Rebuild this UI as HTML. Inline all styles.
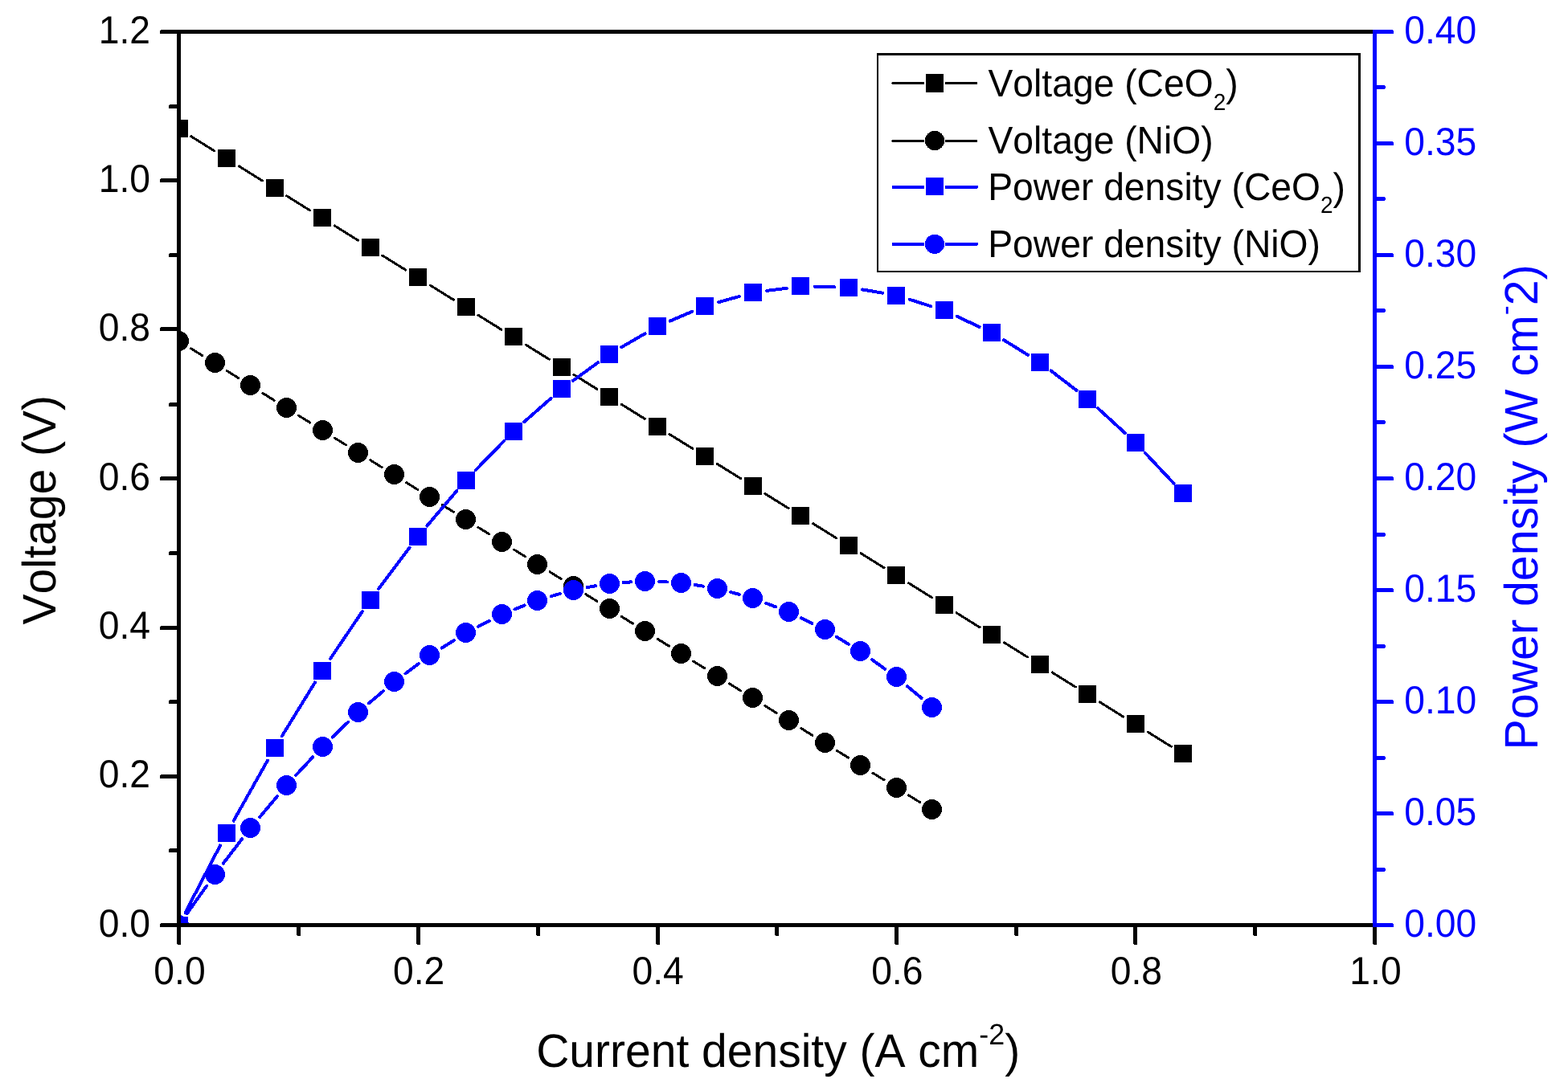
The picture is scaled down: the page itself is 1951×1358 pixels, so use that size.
<!DOCTYPE html>
<html lang="en"><head><meta charset="utf-8">
<title>Voltage and power density vs current density</title>
<style>
html,body{margin:0;padding:0;background:#fff;}
body{width:1951px;height:1358px;overflow:hidden;}
svg{display:block;}
text{font-family:"Liberation Sans", sans-serif;white-space:pre;font-kerning:none;font-variant-ligatures:none;text-rendering:geometricPrecision;}
.tk{font-size:47px;}
.ttl{font-size:57.3px;}
.lg{font-size:47px;}
.sup{font-size:36px;}
.sub{font-size:28.5px;}
.crisp{shape-rendering:crispEdges;}
</style></head><body>
<svg role="img" aria-label="Voltage and power density versus current density for CeO2 and NiO" width="1951" height="1358" viewBox="0 0 1951 1358">
<rect x="0" y="0" width="1951" height="1358" fill="#ffffff"/>
<defs><clipPath id="plot"><rect x="222.5" y="19.5" width="1508" height="1132"/></clipPath></defs>
<g clip-path="url(#plot)">
<g id="voltage-ceo2">
<path class="crisp" d="M237.78 169.78L266.74 187.82M297.3 206.85L326.26 224.88M356.82 243.92L385.78 261.95M416.34 280.98L445.3 299.02M475.86 318.05L504.82 336.08M535.38 355.12L564.34 373.15M594.9 392.18L623.86 410.22M654.42 429.25L683.38 447.28M713.94 466.32L742.9 484.35M773.46 503.38L802.42 521.42M832.98 540.45L861.94 558.48M892.5 577.52L921.46 595.55M952.02 614.58L980.98 632.62M1011.54 651.65L1040.5 669.68M1071.06 688.72L1100.02 706.75M1130.58 725.78L1159.54 743.82M1190.1 762.85L1219.06 780.88M1249.62 799.92L1278.58 817.95M1309.14 836.98L1338.1 855.02M1368.66 874.05L1397.62 892.08M1428.18 911.12L1457.14 929.15" fill="none" stroke="#000" stroke-width="3" stroke-linecap="round"/>
<path class="crisp" d="M212 149h22v22h-22zM271 186h22v22h-22zM331 223h22v22h-22zM390 260h22v22h-22zM450 297h22v22h-22zM509 334h22v22h-22zM569 371h22v22h-22zM628 408h22v22h-22zM688 446h22v22h-22zM747 483h22v22h-22zM807 520h22v22h-22zM866 557h22v22h-22zM926 594h22v22h-22zM985 631h22v22h-22zM1045 668h22v22h-22zM1104 705h22v22h-22zM1164 742h22v22h-22zM1223 779h22v22h-22zM1283 816h22v22h-22zM1342 853h22v22h-22zM1402 890h22v22h-22zM1461 927h22v22h-22z" fill="#000"/>
</g>
<g id="voltage-nio">
<path class="crisp" d="M237.78 433.88L251.86 442.65M282.42 461.68L296.5 470.45M327.06 489.48L341.14 498.25M371.7 517.28L385.78 526.05M416.34 545.08L430.42 553.85M460.98 572.88L475.06 581.65M505.62 600.68L519.7 609.45M550.26 628.48L564.34 637.25M594.9 656.28L608.98 665.05M639.54 684.08L653.62 692.85M684.18 711.88L698.26 720.65M728.82 739.68L742.9 748.45M773.46 767.48L787.54 776.25M818.1 795.28L832.18 804.05M862.74 823.08L876.82 831.85M907.38 850.88L921.46 859.65M952.02 878.68L966.1 887.45M996.66 906.48L1010.74 915.25M1041.3 934.28L1055.38 943.05M1085.94 962.08L1100.02 970.85M1130.58 989.88L1144.66 998.65" fill="none" stroke="#000" stroke-width="3" stroke-linecap="round"/>
<g class="crisp" fill="#000">
<circle cx="222.5" cy="424.5" r="12.5"/>
<circle cx="267.5" cy="451.5" r="12.5"/>
<circle cx="311.5" cy="479.5" r="12.5"/>
<circle cx="356.5" cy="507.5" r="12.5"/>
<circle cx="401.5" cy="535.5" r="12.5"/>
<circle cx="445.5" cy="563.5" r="12.5"/>
<circle cx="490.5" cy="590.5" r="12.5"/>
<circle cx="534.5" cy="618.5" r="12.5"/>
<circle cx="579.5" cy="646.5" r="12.5"/>
<circle cx="624.5" cy="674.5" r="12.5"/>
<circle cx="668.5" cy="702.5" r="12.5"/>
<circle cx="713.5" cy="729.5" r="12.5"/>
<circle cx="758.5" cy="757.5" r="12.5"/>
<circle cx="802.5" cy="785.5" r="12.5"/>
<circle cx="847.5" cy="813.5" r="12.5"/>
<circle cx="892.5" cy="841.5" r="12.5"/>
<circle cx="936.5" cy="868.5" r="12.5"/>
<circle cx="981.5" cy="896.5" r="12.5"/>
<circle cx="1026.5" cy="924.5" r="12.5"/>
<circle cx="1070.5" cy="952.5" r="12.5"/>
<circle cx="1115.5" cy="980.5" r="12.5"/>
<circle cx="1159.5" cy="1007.5" r="12.5"/>
</g>
</g>
<g id="power-ceo2">
<path class="crisp" d="M230.57 1135.97L273.95 1052.49M290.61 1021.72L332.95 946.57M350.71 916.42L391.89 849.49M410.88 820.09L450.76 761.22M471.11 732.76L509.57 681.75M531.43 654.44L568.29 611.06M591.83 585.18L626.93 549.11M652.29 525.02L685.51 495.85M712.8 473.99L744.04 451.24M773.32 432.16L802.56 415.23M833.78 399.55L861.14 387.79M894.07 376.16L919.89 368.93M954.09 361.93L978.91 358.69M1013.76 356.75L1038.28 357.21M1073.04 360.43L1098.04 364.64M1131.98 372.84L1158.14 381.15M1190.68 393.85L1218.48 406.84M1249.24 423.43L1278.96 441.76M1307.75 461.58L1339.49 485.89M1366.29 508.35L1399.99 539.2M1424.88 563.78L1460.44 601.65" fill="none" stroke="#0000ff" stroke-width="4" stroke-linecap="round"/>
<path class="crisp" d="M212 1141h22v22h-22zM271 1026h22v22h-22zM331 920h22v22h-22zM390 824h22v22h-22zM450 736h22v22h-22zM509 657h22v22h-22zM569 587h22v22h-22zM628 526h22v22h-22zM688 473h22v22h-22zM747 430h22v22h-22zM807 395h22v22h-22zM866 370h22v22h-22zM926 353h22v22h-22zM985 345h22v22h-22zM1045 347h22v22h-22zM1104 357h22v22h-22zM1164 375h22v22h-22zM1223 403h22v22h-22zM1283 440h22v22h-22zM1342 486h22v22h-22zM1402 540h22v22h-22zM1461 603h22v22h-22z" fill="#0000ff"/>
</g>
<g id="power-nio">
<path class="crisp" d="M232.62 1137.22L257.02 1102.81M277.82 1074.67L301.1 1044.43M323.06 1017.19L345.14 990.99M368.34 964.8L389.14 942.47M413.67 917.52L433.09 898.84M459.03 875.37L477.01 860.09M504.42 838.37L520.9 826.21M549.81 806.53L564.79 797.16M595.19 779.88L608.69 772.94M640.5 758.42L652.66 753.53M685.71 742.14L696.73 738.95M730.77 731.02L740.95 729.22M775.64 725.02L785.36 724.38M820.3 724.06L829.98 724.51M864.74 728.07L874.82 729.67M908.99 736.99L919.85 739.93M953.08 750.77L965.04 755.35M997.06 769.37L1010.34 775.94M1040.98 792.79L1055.7 801.73M1084.87 821.03L1101.09 832.7M1128.76 854.11L1146.48 868.85" fill="none" stroke="#0000ff" stroke-width="4" stroke-linecap="round"/>
<g class="crisp" fill="#0000ff">
<circle cx="222.5" cy="1151.5" r="12.5"/>
<circle cx="267.5" cy="1088.5" r="12.5"/>
<circle cx="311.5" cy="1030.5" r="12.5"/>
<circle cx="356.5" cy="977.5" r="12.5"/>
<circle cx="401.5" cy="929.5" r="12.5"/>
<circle cx="445.5" cy="886.5" r="12.5"/>
<circle cx="490.5" cy="848.5" r="12.5"/>
<circle cx="534.5" cy="815.5" r="12.5"/>
<circle cx="579.5" cy="787.5" r="12.5"/>
<circle cx="624.5" cy="764.5" r="12.5"/>
<circle cx="668.5" cy="747.5" r="12.5"/>
<circle cx="713.5" cy="734.5" r="12.5"/>
<circle cx="758.5" cy="726.5" r="12.5"/>
<circle cx="802.5" cy="723.5" r="12.5"/>
<circle cx="847.5" cy="725.5" r="12.5"/>
<circle cx="892.5" cy="732.5" r="12.5"/>
<circle cx="936.5" cy="744.5" r="12.5"/>
<circle cx="981.5" cy="761.5" r="12.5"/>
<circle cx="1026.5" cy="783.5" r="12.5"/>
<circle cx="1070.5" cy="810.5" r="12.5"/>
<circle cx="1115.5" cy="842.5" r="12.5"/>
<circle cx="1159.5" cy="880.5" r="12.5"/>
</g>
</g>
</g>
<g id="axes" class="crisp">
<path d="M220 37H225V1176H220ZM199 37H1708V42H199ZM199 1149H1708V1154H199ZM1708 1154H1713V1176H1708ZM210 1056H220V1061H210ZM199 964H220V969H199ZM210 871H220V876H210ZM199 779H220V784H199ZM210 686H220V691H210ZM199 593H220V598H199ZM210 501H220V506H210ZM199 407H220V412H199ZM210 315H220V320H210ZM199 222H220V227H199ZM210 130H220V135H210ZM369 1154H374V1165H369ZM518 1154H523V1176H518ZM667 1154H672V1165H667ZM816 1154H821V1176H816ZM964 1154H969V1165H964ZM1113 1154H1118V1176H1113ZM1262 1154H1267V1165H1262ZM1410 1154H1415V1176H1410ZM1559 1154H1564V1165H1559Z" fill="#000"/>
<path d="M1708 37H1713V1154H1708ZM1713 1149H1734V1154H1713ZM1713 1080H1724V1085H1713ZM1713 1010H1734V1015H1713ZM1713 941H1724V946H1713ZM1713 871H1734V876H1713ZM1713 802H1724V807H1713ZM1713 732H1734V737H1713ZM1713 663H1724V668H1713ZM1713 593H1734V598H1713ZM1713 523H1724V528H1713ZM1713 454H1734V459H1713ZM1713 384H1724V389H1713ZM1713 315H1734V320H1713ZM1713 245H1724V250H1713ZM1713 176H1734V181H1713ZM1713 106H1724V111H1713ZM1713 37H1734V42H1713Z" fill="#0000ff"/>
<path d="M199 37H200V38H199ZM199 1149H200V1150H199ZM220 1175H221V1176H220ZM1708 1175H1709V1176H1708ZM210 1056H211V1057H210ZM199 964H200V965H199ZM210 871H211V872H210ZM199 779H200V780H199ZM210 686H211V687H210ZM199 593H200V594H199ZM210 501H211V502H210ZM199 407H200V408H199ZM210 315H211V316H210ZM199 222H200V223H199ZM210 130H211V131H210ZM369 1164H370V1165H369ZM518 1175H519V1176H518ZM667 1164H668V1165H667ZM816 1175H817V1176H816ZM964 1164H965V1165H964ZM1113 1175H1114V1176H1113ZM1262 1164H1263V1165H1262ZM1410 1175H1411V1176H1410ZM1559 1164H1560V1165H1559ZM1733 1149H1734V1150H1733ZM1723 1080H1724V1081H1723ZM1723 1084H1724V1085H1723ZM1733 1010H1734V1011H1733ZM1723 941H1724V942H1723ZM1723 945H1724V946H1723ZM1733 871H1734V872H1733ZM1723 802H1724V803H1723ZM1723 806H1724V807H1723ZM1733 732H1734V733H1733ZM1723 663H1724V664H1723ZM1723 667H1724V668H1723ZM1733 593H1734V594H1733ZM1723 523H1724V524H1723ZM1723 527H1724V528H1723ZM1733 454H1734V455H1733ZM1723 384H1724V385H1723ZM1723 388H1724V389H1723ZM1733 315H1734V316H1733ZM1723 245H1724V246H1723ZM1723 249H1724V250H1723ZM1733 176H1734V177H1733ZM1723 106H1724V107H1723ZM1723 110H1724V111H1723ZM1733 37H1734V38H1733Z" fill="#fff"/>
</g>
<g id="left-labels" fill="#000">
<text class="tk" text-anchor="end" transform="translate(187 1165.7) scale(0.984 1.04)">0.0</text>
<text class="tk" text-anchor="end" transform="translate(187 980.37) scale(0.984 1.04)">0.2</text>
<text class="tk" text-anchor="end" transform="translate(187 795.03) scale(0.984 1.04)">0.4</text>
<text class="tk" text-anchor="end" transform="translate(187 609.7) scale(0.984 1.04)">0.6</text>
<text class="tk" text-anchor="end" transform="translate(187 424.37) scale(0.984 1.04)">0.8</text>
<text class="tk" text-anchor="end" transform="translate(187 239.03) scale(0.984 1.04)">1.0</text>
<text class="tk" text-anchor="end" transform="translate(187 53.7) scale(0.984 1.04)">1.2</text>
</g>
<g id="bottom-labels" fill="#000">
<text class="tk" text-anchor="middle" transform="translate(223.5 1224.7) scale(0.984 1.04)">0.0</text>
<text class="tk" text-anchor="middle" transform="translate(521.1 1224.7) scale(0.984 1.04)">0.2</text>
<text class="tk" text-anchor="middle" transform="translate(818.7 1224.7) scale(0.984 1.04)">0.4</text>
<text class="tk" text-anchor="middle" transform="translate(1116.3 1224.7) scale(0.984 1.04)">0.6</text>
<text class="tk" text-anchor="middle" transform="translate(1413.9 1224.7) scale(0.984 1.04)">0.8</text>
<text class="tk" text-anchor="middle" transform="translate(1711.5 1224.7) scale(0.984 1.04)">1.0</text>
</g>
<g id="right-labels" fill="#0000ff">
<text class="tk" text-anchor="start" transform="translate(1747.2 1165.7) scale(0.984 1.04)">0.00</text>
<text class="tk" text-anchor="start" transform="translate(1747.2 1026.7) scale(0.984 1.04)">0.05</text>
<text class="tk" text-anchor="start" transform="translate(1747.2 887.7) scale(0.984 1.04)">0.10</text>
<text class="tk" text-anchor="start" transform="translate(1747.2 748.7) scale(0.984 1.04)">0.15</text>
<text class="tk" text-anchor="start" transform="translate(1747.2 609.7) scale(0.984 1.04)">0.20</text>
<text class="tk" text-anchor="start" transform="translate(1747.2 470.7) scale(0.984 1.04)">0.25</text>
<text class="tk" text-anchor="start" transform="translate(1747.2 331.7) scale(0.984 1.04)">0.30</text>
<text class="tk" text-anchor="start" transform="translate(1747.2 192.7) scale(0.984 1.04)">0.35</text>
<text class="tk" text-anchor="start" transform="translate(1747.2 53.7) scale(0.984 1.04)">0.40</text>
</g>
<text id="x-title" class="ttl" fill="#000" transform="translate(667.2 1328) scale(0.9947 1.02)">Current density (A cm<tspan class="sup" dy="-27.65">-2</tspan><tspan dy="27.65">)</tspan></text>
<text id="y-title" class="ttl" fill="#000" transform="translate(68.9 777.5) rotate(-90) scale(0.9965 1.02)">Voltage (V)</text>
<text id="y2-title" class="ttl" fill="#0000ff" transform="translate(1913 933.4) rotate(-90) scale(1 1.02)">Power density (W cm<tspan class="sup" dy="-27.65">-</tspan><tspan dy="27.65">2)</tspan></text>
<g id="legend">
<path class="crisp" fill="#fff" d="M1091 66H1693V339H1091Z"/>
<path class="crisp" fill="#000" fill-rule="evenodd" d="M1091 66H1693V339H1091ZM1093 69V337H1690V69Z"/>
<path class="crisp" d="M1110.9 103.5H1148.7M1177.3 103.5H1214.9" stroke="#000" stroke-width="3" stroke-linecap="round" fill="none"/>
<rect class="crisp" x="1152" y="92" width="22" height="23" fill="#000"/>
<text class="lg" fill="#000" transform="translate(1229.5 119.8) scale(0.984 1.02)">Voltage (CeO<tspan class="sub" dy="16.67">2</tspan><tspan dy="-16.67">)</tspan></text>
<path class="crisp" d="M1110.9 175.5H1148.7M1177.3 175.5H1214.9" stroke="#000" stroke-width="3" stroke-linecap="round" fill="none"/>
<circle class="crisp" cx="1163" cy="175" r="12.1" fill="#000"/>
<text class="lg" fill="#000" transform="translate(1229.5 190.9) scale(0.984 1.02)">Voltage (NiO)</text>
<path class="crisp" d="M1111.4 233H1148.2M1177.8 233H1215" stroke="#0000ff" stroke-width="4" stroke-linecap="round" fill="none"/>
<rect class="crisp" x="1152" y="221" width="22" height="22" fill="#0000ff"/>
<text class="lg" fill="#000" transform="translate(1229.2 248.95) scale(0.984 1.02)">Power density (CeO<tspan class="sub" dy="15.69">2</tspan><tspan dy="-15.69">)</tspan></text>
<path class="crisp" d="M1111.4 304H1148.2M1177.8 304H1215" stroke="#0000ff" stroke-width="4" stroke-linecap="round" fill="none"/>
<circle class="crisp" cx="1163" cy="303.9" r="12.1" fill="#0000ff"/>
<text class="lg" fill="#000" transform="translate(1229.2 319.9) scale(0.984 1.02)">Power density (NiO)</text>
</g>
</svg>
</body></html>
